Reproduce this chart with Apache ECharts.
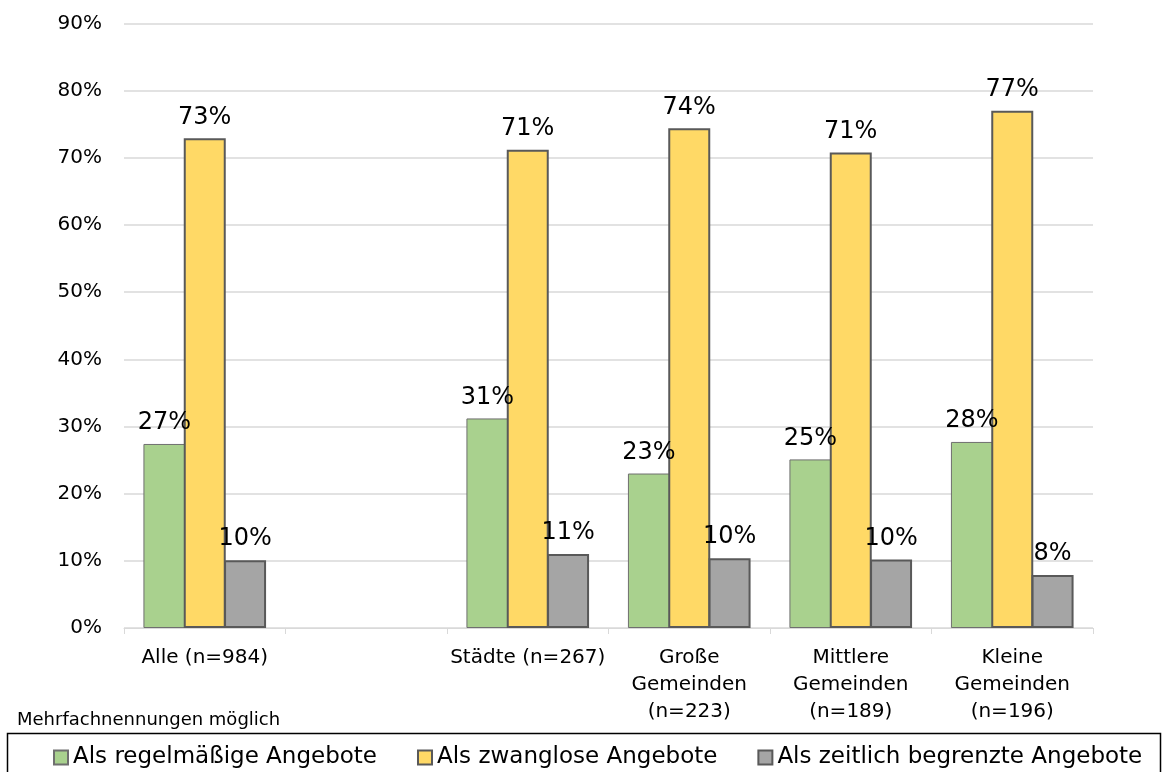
<!DOCTYPE html>
<html>
<head>
<meta charset="utf-8">
<script src="https://cdn.jsdelivr.net/npm/echarts@6/dist/echarts.min.js"></script>
<style>
  html, body { margin: 0; padding: 0; background: #fff; }
  #chart { width: 1167px; height: 772px; }
</style>
</head>
<body>
<div id="chart"></div>
<script>
// Categories (second slot is an intentional empty spacer column)
const categories = [
  'Alle (n=984)',
  '',
  'Städte (n=267)',
  'Große\nGemeinden\n(n=223)',
  'Mittlere\nGemeinden\n(n=189)',
  'Kleine\nGemeinden\n(n=196)'
];

const seriesNames = [
  'Als regelmäßige Angebote',
  'Als zwanglose Angebote',
  'Als zeitlich begrenzte Angebote'
];

// Shares in percent
const regelmaessig = [27.4, null, 31.2, 23.0, 25.1, 27.7];
const zwanglos     = [72.9, null, 71.2, 74.4, 70.8, 77.0];
const begrenzt     = [10.1, null, 11.0, 10.4, 10.2, 7.9];

const yTicks = { min: 0, max: 90, interval: 10 };

const FONT = 'DejaVu Sans';

const chart = echarts.init(document.getElementById('chart'), null, { renderer: 'canvas' });

function barSeries(name, data, color, borderColor, borderWidth) {
  return {
    name: name,
    type: 'bar',
    data: data,
    barWidth: 42,
    barGap: '-4%',
    itemStyle: { color: color, borderColor: borderColor, borderWidth: borderWidth },
    label: {
      show: true,
      position: 'top',
      distance: 9,
      color: '#000',
      fontFamily: FONT,
      fontSize: 24,
      formatter: p => Math.round(p.value) + '%'
    },
    emphasis: { disabled: true }
  };
}

chart.setOption({
  animation: false,
  backgroundColor: '#fff',
  textStyle: { fontFamily: FONT },
  grid: { left: 124, right: 74, top: 23.5, bottom: 144, containLabel: false },
  xAxis: {
    type: 'category',
    data: categories,
    axisLine: { show: true, lineStyle: { color: '#d9d9d9', width: 1 } },
    axisTick: { show: true, alignWithLabel: false, length: 6, lineStyle: { color: '#d9d9d9' } },
    axisLabel: {
      interval: 0,
      color: '#000',
      fontFamily: FONT,
      fontSize: 20,
      lineHeight: 27,
      margin: 16,
      align: 'center'
    }
  },
  yAxis: {
    type: 'value',
    min: yTicks.min,
    max: yTicks.max,
    interval: yTicks.interval,
    axisLine: { show: false },
    axisTick: { show: false },
    splitLine: { lineStyle: { color: '#d9d9d9', width: 1.5 } },
    axisLabel: {
      color: '#000',
      fontFamily: FONT,
      fontSize: 20,
      margin: 22,
      formatter: v => v + '%'
    }
  },
  legend: {
    data: seriesNames,
    left: 48,
    top: 741,
    itemWidth: 14,
    itemHeight: 14,
    itemGap: 40,
    icon: 'rect',
    textStyle: { color: '#000', fontFamily: FONT, fontSize: 23 },
    selectedMode: false
  },
  graphic: [
    {
      type: 'rect',
      shape: { x: 7.5, y: 733.5, width: 1153, height: 60 },
      style: { fill: 'none', stroke: '#000', lineWidth: 1.5 },
      silent: true,
      z: 0
    },
    {
      type: 'text',
      left: 17,
      top: 711,
      style: { text: 'Mehrfachnennungen möglich', fill: '#000', font: '18px "DejaVu Sans"' },
      silent: true
    }
  ],
  series: [
    barSeries(seriesNames[0], regelmaessig, '#a9d18e', '#6f6f6f', 1),
    barSeries(seriesNames[1], zwanglos, '#ffd966', '#595959', 2),
    barSeries(seriesNames[2], begrenzt, '#a5a5a5', '#595959', 2)
  ]
});
</script>
</body>
</html>
